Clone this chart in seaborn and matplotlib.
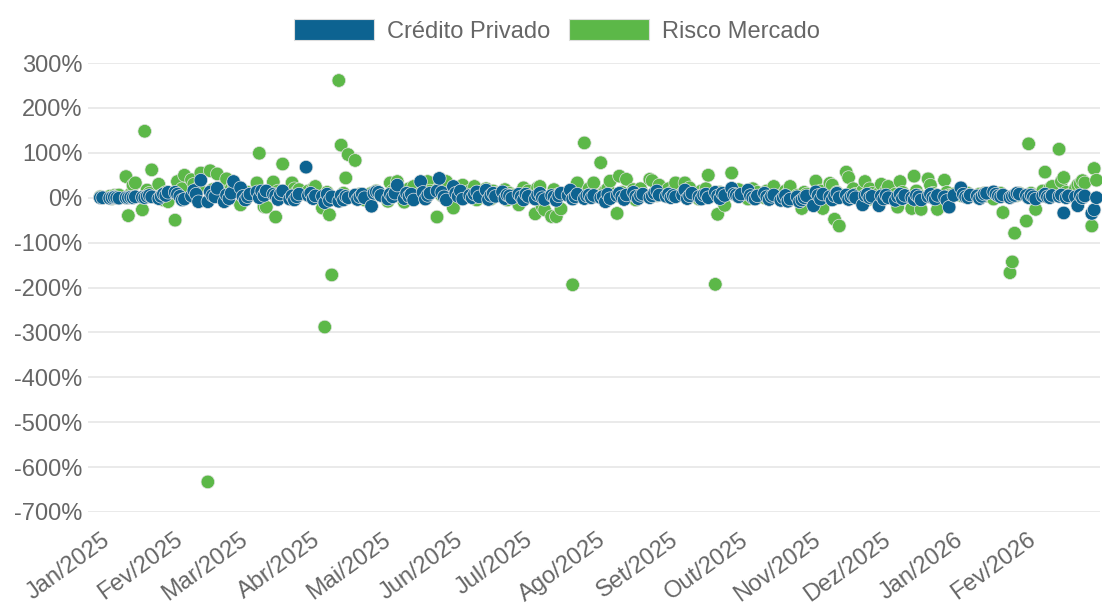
import matplotlib
matplotlib.use("Agg")
import numpy as np
import pandas as pd
import seaborn as sns
import matplotlib.pyplot as plt
import matplotlib.transforms as mtransforms
from matplotlib.patches import Patch

# ---------------- data (percent values, one per business day) ----------------
series_names = ["Crédito Privado", "Risco Mercado"]
month_names_pt = ["Jan", "Fev", "Mar", "Abr", "Mai", "Jun", "Jul", "Ago", "Set", "Out", "Nov", "Dez"]

# Crédito Privado
cp_2025_01 = [0, 0, -1, 0, 1, 0, -1, 0, 0, 1, 0, 2, 1, 0, 3, 5, 2, -2, 3, 8, 5, 12]
cp_2025_02 = [12, 8, 3, -5, -3, 4, 16, 8, -9, 39, -9, 13, 5, 2, 21, -9, 6, -2, 10, 36]
cp_2025_03 = [22, 3, -5, 2, 8, 13, 0, 15, 5, 15, 8, 5, -4, 8, 15, -3, 4, -5, 2, 8, 68]
cp_2025_04 = [5, 10, -2, 4, 3, -11, 8, -6, 2, -8, 5, -5, 3, 0, 6, -4, 2, 8, 0, -19, 10, 13]
cp_2025_05 = [12, 5, -3, 8, 2, 10, 28, -2, 10, 3, 8, -5, 36, 12, -3, 5, 10, 15, 43, 12, 2, -5]
cp_2025_06 = [25, 10, 3, 15, -3, 5, 0, 8, 13, 2, 17, -4, 5, 10, 3, 13, -2, 6, 4, -1, 8]
cp_2025_07 = [2, -5, 8, 3, -3, 6, 10, 0, -4, 5, 2, -6, 4, 10, 5, 17, -3, 2, 8, -2, 4, 6, 0]
cp_2025_08 = [5, 0, 3, -9, 8, -2, 5, 10, 2, -4, 6, 12, 3, -2, 5, 8, 0, 4, 10, 15, 6]
cp_2025_09 = [3, 8, 0, 5, 2, 6, 17, -2, 4, 10, 2, -3, 6, 8, 0, 12, 4, -2, 10, 5, 21, 8]
cp_2025_10 = [6, 2, 8, 17, 5, 0, -3, 4, 10, 2, -4, 3, 6, -6, 0, 5, -8, -3, 2, -9, -5, 0, 4]
cp_2025_11 = [-18, 13, 5, -3, 8, 2, -5, 4, 10, 0, 6, -4, 2, 5, 0, -16, 5, 8, 0, 3]
cp_2025_12 = [-18, 4, -3, 6, 0, -6, 3, 8, -2, 5, 0, -4, 6, 2, -5, 3, 8, 0, -3, 5, 2, -6, -21]
cp_2026_01 = [5, 22, 8, 2, 0, 6, 4, -2, 3, 8, 10, 13, 8, 4, 2, 6, 0, 3, 5, 10, 8]
cp_2026_02 = [5, 0, 6, 2, -3, 4, 8, 2, 0, 5, 3, 6, -34, 0, 4, 2, -18, 6, 0, 4]
cp_2026_03 = [-35, -27, 0]

# Risco Mercado
rm_2025_01 = [2, 0, 3, -2, 5, 4, 6, 47, -40, 8, 28, 33, -27, 148, 17, 10, 62, 30, 5, -5, 12, -9]
rm_2025_02 = [-50, 36, 8, 20, 50, 40, 30, 15, 22, 55, -633, 60, 18, 10, 53, 25, 42, 12, 20, 33]
rm_2025_03 = [-16, 10, 5, 12, 8, 33, 99, 10, -20, -21, 35, -43, 15, 8, 75, 10, 33, 20, 12, 18, 8]
rm_2025_04 = [15, 8, 20, 25, -23, -288, 12, -38, -172, 261, 117, 10, 44, 96, 83, 5, 8, 0, -5, 10, 6, 15]
rm_2025_05 = [10, 5, -8, 33, 15, 8, 36, -10, 12, 20, 5, 25, 10, 8, 18, 36, 15, -43, 22, 5, 30, 36]
rm_2025_06 = [-23, 20, 8, 12, 28, 15, 5, 25, -5, 12, 20, 8, -3, 15, 10, 5, 18, -5, 10, 6, -16]
rm_2025_07 = [10, 22, 5, 15, -36, 22, 25, -20, -27, -42, 18, -42, 8, -25, 12, 5, -194, 15, 33, 122, 10, 20, 8]
rm_2025_08 = [33, 78, 10, 15, 20, 37, -35, 48, 12, 5, 41, 18, -5, 10, 20, 8, 41, 38, 10, 5, 28]
rm_2025_09 = [12, 20, 8, 15, 33, 10, 33, 5, 22, 10, -3, 15, 8, 20, 50, -193, -37, 12, 5, -17, 55, 10]
rm_2025_10 = [10, 18, 5, -3, 15, 20, 8, 12, 0, 15, 5, 10, 25, -5, 8, 15, 10, 25, 5, -8, -24, 12, 8]
rm_2025_11 = [5, 37, 10, 15, -24, 32, 28, -48, 12, -63, 57, 45, 5, 20, 8, 15, 36, -5, 20, 10]
rm_2025_12 = [10, 30, 5, 15, 25, 8, -21, 36, 12, 5, -24, 48, 15, 5, -26, 42, 28, 10, 5, -26, 39, 12, 5]
rm_2026_01 = [8, 5, 12, 3, 10, 6, 2, 8, 5, 10, 4, -3, 8, 6, 10, -33, -167, -143, -79, 5, 10]
rm_2026_02 = [-52, 120, 10, 5, -26, 15, 57, 10, 20, 25, 108, 36, 45, 12, 5, 20, 28, 31, 38, 33]
rm_2026_03 = [-63, 65, 39]

cp_months = [cp_2025_01, cp_2025_02, cp_2025_03, cp_2025_04, cp_2025_05, cp_2025_06, cp_2025_07,
             cp_2025_08, cp_2025_09, cp_2025_10, cp_2025_11, cp_2025_12, cp_2026_01, cp_2026_02, cp_2026_03]
rm_months = [rm_2025_01, rm_2025_02, rm_2025_03, rm_2025_04, rm_2025_05, rm_2025_06, rm_2025_07,
             rm_2025_08, rm_2025_09, rm_2025_10, rm_2025_11, rm_2025_12, rm_2026_01, rm_2026_02, rm_2026_03]
month_keys = [(2025, m) for m in range(1, 13)] + [(2026, 1), (2026, 2), (2026, 3)]

# business days (New Year's Day excluded)
all_bd = [d for d in pd.bdate_range("2025-01-02", "2026-03-04") if not (d.month == 1 and d.day == 1)]

rows = []
for series, months in ((series_names[1], rm_months), (series_names[0], cp_months)):
    for key, vals in zip(month_keys, months):
        mdates = [d for d in all_bd if (d.year, d.month) == key]
        for d, v in zip(mdates, vals):
            rows.append({"Data": d, "Valor": v, "Série": series})
df = pd.DataFrame(rows)

# ---------------- style ----------------
blue = "#0d6391"
green = "#5cb848"
text_col = "#666666"
grid_col = "#e6e6e6"

sns.set_theme(style="white")
plt.rcParams["font.family"] = ["Liberation Sans", "DejaVu Sans"]

W, H = 1102, 606
fig = plt.figure(figsize=(W / 100, H / 100), dpi=100)
ax_left, ax_right, ax_top, ax_bottom = 88, 1100, 63, 512
ax = fig.add_axes([ax_left / W, 1 - ax_bottom / H, (ax_right - ax_left) / W, (ax_bottom - ax_top) / H])

sns.scatterplot(data=df, x="Data", y="Valor", hue="Série",
                palette={series_names[0]: blue, series_names[1]: green},
                s=95, edgecolor="#e2e2e2", linewidth=0.5, alpha=1.0,
                legend=False, ax=ax, clip_on=False, zorder=3)

# y axis
yticks = list(range(-700, 301, 100))
ax.set_ylim(-700, 300)
ax.set_yticks(yticks)
ax.set_yticklabels([f"{v}%" for v in yticks])
ax.yaxis.grid(True, color=grid_col, linewidth=1.2, zorder=0)
ax.xaxis.grid(False)
ax.set_axisbelow(True)

# x axis
tick_dates = pd.date_range("2025-01-01", "2026-02-01", freq="MS")
tick_labels = [f"{month_names_pt[d.month - 1]}/{d.year}" for d in tick_dates]
ax.set_xlim(pd.Timestamp("2024-12-27 18:00"), pd.Timestamp("2026-03-05 12:00"))
ax.set_xticks(tick_dates)
ax.set_xticklabels(tick_labels, rotation=36, ha="right", va="top", rotation_mode="anchor")

ax.tick_params(axis="x", length=0, pad=12, labelsize=17, labelcolor=text_col)
ax.tick_params(axis="y", length=0, pad=4, labelsize=17, labelcolor=text_col)
ax.set_xlabel("")
ax.set_ylabel("")
for sp in ax.spines.values():
    sp.set_visible(False)

offset = mtransforms.ScaledTranslation(3 / 100, 0, fig.dpi_scale_trans)
for lbl in ax.get_xticklabels():
    lbl.set_transform(lbl.get_transform() + offset)

# legend
handles = [Patch(facecolor=blue, edgecolor="#dddddd", linewidth=0.8, label=series_names[0]),
           Patch(facecolor=green, edgecolor="#dddddd", linewidth=0.8, label=series_names[1])]
fig.legend(handles=handles, loc="center", bbox_to_anchor=(557 / W, 1 - 31 / H), ncol=2,
           frameon=False, fontsize=17, labelcolor=text_col, handlelength=3.4, handleheight=1.0,
           handletextpad=0.55, columnspacing=0.8)

fig.savefig("out.png", dpi=100)
